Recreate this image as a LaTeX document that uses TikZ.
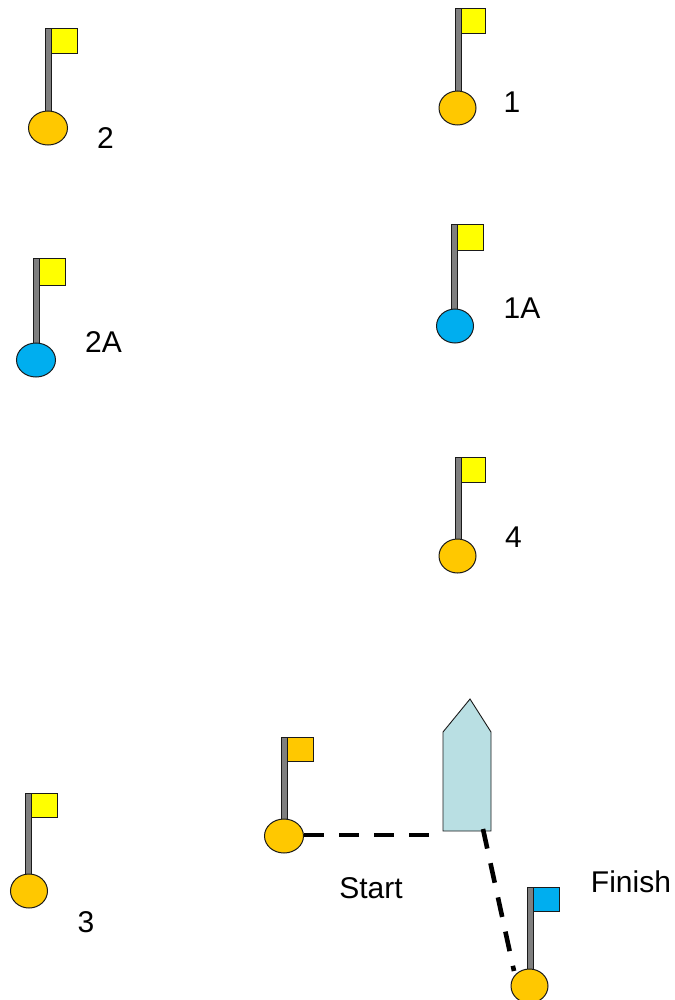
\documentclass[tikz,border=0pt]{standalone}
\usepackage{fontspec}
\setmainfont{Liberation Sans}
\usetikzlibrary{shapes.geometric}
\definecolor{buoyorange}{HTML}{FFC800}
\definecolor{buoyblue}{HTML}{00AEEF}
\definecolor{flagyellow}{HTML}{FFFF00}
\definecolor{polegrey}{HTML}{7F7F7F}
\definecolor{boatfill}{HTML}{B9DFE3}
\definecolor{outline}{HTML}{1A1A1A}
\def\ballw{37pt}
\tikzset{
  pole/.style={draw=outline,fill=polegrey,line width=0.9pt},
  flagbox/.style={draw=outline,line width=0.9pt},
  ball/.style={ellipse,draw=outline,line width=1pt,inner sep=0pt,minimum width=\ballw,minimum height=34pt},
  lbl/.style={font=\fontsize{30}{32}\selectfont,text=black,inner sep=0pt},
  course/.style={line width=4.6pt,black,dash pattern=on 20pt off 15pt},
}
% #1 name, #2 pole left, #3 pole top, #4 ball cx, #5 ball cy, #6 flag right, #7 flag bottom, #8 ball colour, #9 flag colour
\newcommand{\buoyflag}[9]{
  \draw[pole] (#2,#3) rectangle (#2+6,#5-10);
  \draw[flagbox,fill=#9] (#2+6,#3) rectangle (#6,#7);
  \node[ball,fill=#8] (#1) at (#4,#5) {};
}
\begin{document}
\begin{tikzpicture}[x=1pt,y=-1pt]
\useasboundingbox (0,0) rectangle (674,1000);
\def\ballw{39pt}
\buoyflag{b2}{45}{28}{48}{128}{77}{53}{buoyorange}{flagyellow}
\buoyflag{b2a}{33}{258}{36}{360}{65}{285}{buoyblue}{flagyellow}
\buoyflag{bs}{281}{737}{284}{836}{313}{761}{buoyorange}{buoyorange}
\def\ballw{37pt}
\buoyflag{b1}{455}{8}{457.5}{108}{485}{33}{buoyorange}{flagyellow}
\buoyflag{b1a}{451}{224}{455}{326}{483}{250}{buoyblue}{flagyellow}
\buoyflag{b4}{455}{457}{457.5}{556}{485}{482}{buoyorange}{flagyellow}
\buoyflag{b3}{25}{793}{29}{891}{57}{817}{buoyorange}{flagyellow}
\buoyflag{bf}{527}{887}{529.5}{986}{559}{911}{buoyorange}{buoyblue}
\node[lbl] (l2) at (105.5,138) {2};
\node[lbl] (l1) at (512,102) {1};
\node[lbl] (l1a) at (522,308) {1A};
\node[lbl] (l2a) at (103.5,342) {2A};
\node[lbl] (l4) at (513.5,537) {4};
\node[lbl] (l3) at (86,922) {3};
\node[lbl] (lstart) at (371,888) {Start};
\node[lbl] (lfinish) at (631,882) {Finish};
\draw[draw=outline,line width=0.9pt,fill=boatfill] (470,699) -- (491,732) -- (491,831) -- (443,831) -- (443,732) -- cycle;
\coordinate (boatleft) at (443,835);
\coordinate (boatbottom) at (483,829);
\coordinate (finishend) at (514,971);
\draw[course] (bs.east |- boatleft) -- (boatleft);
\draw[course] (boatbottom) -- (finishend);
\end{tikzpicture}
\end{document}
